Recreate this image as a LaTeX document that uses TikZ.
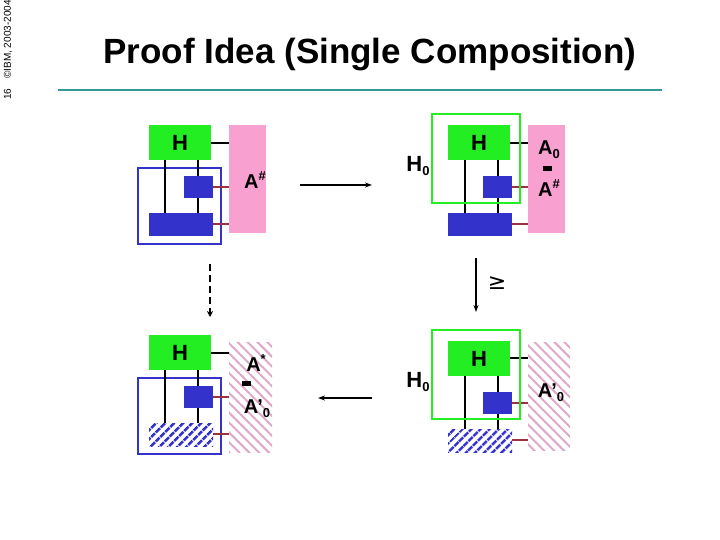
\documentclass[tikz,border=0pt]{standalone}
\usepackage{fontspec}
\setmainfont{Liberation Sans}
\newfontfamily\djv{DejaVu Sans}
\usetikzlibrary{patterns.meta,arrows.meta}
\definecolor{hgreen}{HTML}{22EE22}
\definecolor{bblue}{HTML}{3333CC}
\definecolor{pinkA}{HTML}{F8A0D0}
\definecolor{pinkH}{HTML}{E0A8C8}
\definecolor{wred}{HTML}{993344}
\definecolor{teal}{HTML}{339999}
\newcommand{\lsub}[1]{\raisebox{-0.35ex}{\fontsize{13}{13}\selectfont #1}}
\newcommand{\lsup}[1]{\raisebox{0.75ex}{\fontsize{13}{13}\selectfont #1}}
\newcommand{\mbar}{\rule[0.25ex]{9pt}{4.5pt}}
\tikzset{
 hbox/.style={fill=hgreen,draw=none,font=\bfseries\fontsize{22}{22}\selectfont},
 bfill/.style={fill=bblue},
 bhatch/.style={pattern={Lines[angle=45,distance=6.5pt,line width=2.8pt]},pattern color=bblue},
 pfill/.style={fill=pinkA},
 phatch/.style={pattern={Lines[angle=-45,distance=7pt,line width=2pt]},pattern color=pinkH},
 wire/.style={line width=1.5pt,black},
 rwire/.style={line width=1.5pt,wred},
 lbl/.style={font=\bfseries\fontsize{20}{20}\selectfont,inner sep=0},
}
\begin{document}
\begin{tikzpicture}[x=1pt,y=-1pt]
\useasboundingbox (0,0) rectangle (720,540);
\node[rotate=90,font=\fontsize{10}{10}\selectfont,inner sep=0] (side) at (8,50) {16\quad ©IBM, 2003-2004};
\node[font=\bfseries\fontsize{35}{35}\selectfont] (title) at (370,55) {Proof Idea (Single Composition)};
\draw[teal,line width=1.2pt] (58,90) coordinate (l1) -- (662,90) coordinate (l2);
% top-left
\begin{scope}
\draw[bblue,line width=1.3pt] (138,168) rectangle (221,244);
\path[pfill] (229,125) rectangle (266,233);
\path[bfill] (184,176) rectangle (213,198);
\path[bfill] (149,213) rectangle (213,236);
\draw[wire] (165,160) -- (165,213);
\draw[wire] (198,160) -- (198,176) (198,198) -- (198,213);
\draw[wire] (211,143) -- (229,143);
\draw[rwire] (213,187) -- (229,187) (213,224) -- (229,224);
\node[hbox,minimum width=62pt,minimum height=35pt] (h1) at (180,142.5) {H};
\node[lbl] (a1) at (255,180) {A\lsup{\#}};
\end{scope}
% bottom-left
\begin{scope}[yshift=-210pt]
\draw[bblue,line width=1.3pt] (138,168) rectangle (221,244);
\path[phatch] (229,132) rectangle (272,242);
\path[bfill] (184,176) rectangle (213,198);
\path[bhatch] (149,213) rectangle (213,236);
\draw[wire] (165,160) -- (165,213);
\draw[wire] (198,160) -- (198,176) (198,198) -- (198,213);
\draw[wire] (211,143) -- (229,143);
\draw[rwire] (213,187) -- (229,187) (213,224) -- (229,224);
\node[hbox,minimum width=62pt,minimum height=35pt] (h2) at (180,142.5) {H};
\node[lbl] (a2) at (256,153) {A\lsup{*}};
\node[lbl] (m2) at (246,175) {\mbar};
\node[lbl] (b2) at (257,199) {A'\lsub{0}};
\end{scope}
% top-right
\begin{scope}
\path[pfill] (528,125) rectangle (565,233);
\path[bfill] (483,176) rectangle (512,198);
\path[bfill] (448,213) rectangle (512,236);
\draw[wire] (465,160) -- (465,213);
\draw[wire] (498,160) -- (498,176) (498,198) -- (498,213);
\draw[wire] (510,143) -- (528,143);
\draw[rwire] (512,187) -- (528,187) (512,224) -- (528,224);
\node[hbox,minimum width=62pt,minimum height=35pt] (h3) at (479,142.5) {H};
\draw[hgreen,line width=1.5pt] (432,114) rectangle (520,203);
\node[lbl,font=\bfseries\fontsize{22}{22}\selectfont] (h03) at (418,166) {H\lsub{0}};
\node[lbl] (a3) at (549,150) {A\lsub{0}};
\node[lbl] (m3) at (547,170) {\mbar};
\node[lbl] (b3) at (549,188) {A\lsup{\#}};
\end{scope}
% bottom-right
\begin{scope}[yshift=-216pt]
\path[phatch] (528,126) rectangle (570,234);
\path[bfill] (483,176) rectangle (512,198);
\path[bhatch] (448,213) rectangle (512,236);
\draw[wire] (465,160) -- (465,213);
\draw[wire] (498,160) -- (498,176) (498,198) -- (498,213);
\draw[wire] (510,142) -- (528,142);
\draw[rwire] (512,187) -- (528,187) (512,224) -- (528,224);
\node[hbox,minimum width=62pt,minimum height=35pt] (h4) at (479,142.5) {H};
\draw[hgreen,line width=1.5pt] (432,114) rectangle (520,203);
\node[lbl,font=\bfseries\fontsize{22}{22}\selectfont] (h04) at (418,166) {H\lsub{0}};
\node[lbl] (a4) at (551,177) {A'\lsub{0}};
\end{scope}
% arrows
\coordinate (p1) at (300,185); \coordinate (p2) at (372,185);
\draw[line width=1.3pt,-{Stealth[length=7pt,width=5pt]}] (p1) -- (p2);
\coordinate (q1) at (372,398); \coordinate (q2) at (318,398);
\draw[line width=1.3pt,-{Stealth[length=7pt,width=5pt]}] (q1) -- (q2);
\coordinate (r1) at (210,264); \coordinate (r2) at (210,317);
\draw[line width=2.2pt,dash pattern=on 7pt off 4pt,-{Stealth[length=6pt,width=6pt]}] (r1) -- (r2);
\coordinate (s1) at (476,258); \coordinate (s2) at (476,312);
\draw[line width=1.5pt,-{Stealth[length=7pt,width=5pt]}] (s1) -- (s2);
\node[font=\djv\fontsize{22}{22}\selectfont] (ge) at (497,283) {≥};
\end{tikzpicture}
\end{document}
